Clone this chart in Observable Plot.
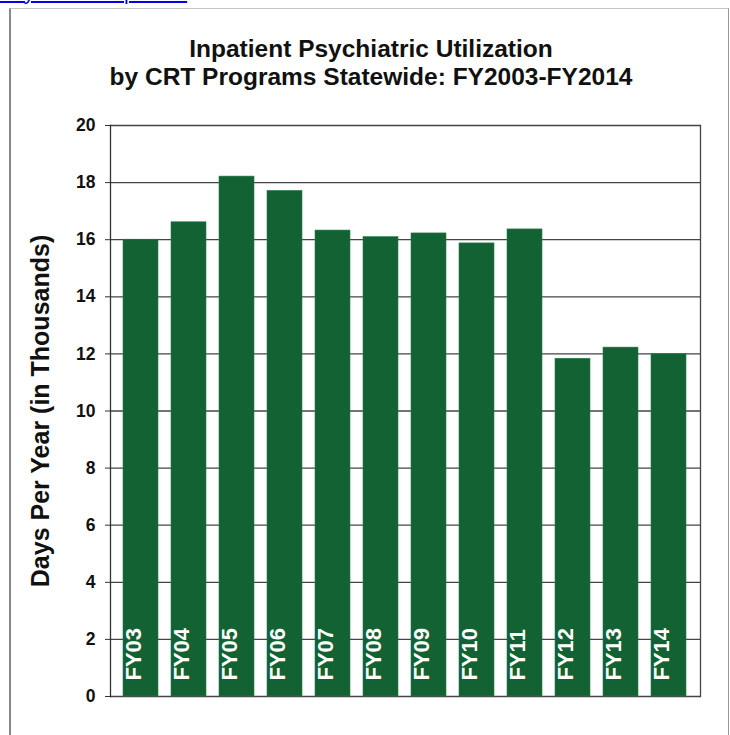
<!DOCTYPE html>
<html>
<head>
<meta charset="utf-8">
<script src="https://cdn.jsdelivr.net/npm/d3@7"></script>
<script src="https://cdn.jsdelivr.net/npm/@observablehq/plot@0.6"></script>
<style>
  html, body { margin: 0; padding: 0; background: #fff; width: 730px; height: 735px; overflow: hidden; font-family: "Liberation Sans", Arial, sans-serif; }
  #link { position: absolute; right: 537px; top: -19px; text-align: right; white-space: nowrap; font-size: 21px; color: #0000ee; }
  #link a { color: #0000ee; text-decoration: underline; text-decoration-thickness: 2px; }
  #frame { position: absolute; left: 9px; top: 8px; width: 717px; height: 760px; border: 1px solid #999; border-top-color: #c4c4c4; border-left: 2px solid #888; }
  .title { position: absolute; left: 0; width: 742px; text-align: center; font-weight: bold; font-size: 24.5px; color: #111; white-space: nowrap; }
  #chart { position: absolute; left: 0; top: 0; }
  #ylabel { position: absolute; left: 40px; top: 411px; transform: translate(-50%, -50%) rotate(-90deg); font-weight: bold; font-size: 25px; color: #111; white-space: nowrap; }
</style>
</head>
<body>
<div id="link"><a>Acute Psychiatric Inpatient</a><span style="color:#000">.</span></div>
<div id="frame"></div>
<div id="chart"></div>
<div class="title" style="top:35px">Inpatient Psychiatric Utilization</div>
<div class="title" style="top:63px">by CRT Programs Statewide: FY2003-FY2014</div>
<div id="ylabel">Days Per Year (in Thousands)</div>
<script>
const years = ["FY03","FY04","FY05","FY06","FY07","FY08","FY09","FY10","FY11","FY12","FY13","FY14"];
const days = [16.0, 16.61, 18.21, 17.71, 16.32, 16.09, 16.22, 15.87, 16.36, 11.83, 12.22, 11.99];
const yTicks = [0, 2, 4, 6, 8, 10, 12, 14, 16, 18, 20];

const data = years.map((fy, i) => ({fy, days: days[i]}));

const chart = Plot.plot({
  width: 730,
  height: 735,
  marginLeft: 110,
  marginRight: 30,
  marginTop: 125,
  marginBottom: 39,
  style: { background: "transparent", fontFamily: "'Liberation Sans', Arial, sans-serif" },
  x: { domain: years, padding: 0.27, axis: null },
  y: { domain: [0, 20], axis: null },
  marks: [
    Plot.ruleY(yTicks, { stroke: "#444", strokeWidth: 1.3 }),
    Plot.barY(data, { x: "fy", y: "days", fill: "#126234", stroke: "#2f7a4c", strokeWidth: 0.6 }),
    Plot.frame({ anchor: "left", stroke: "#333", strokeWidth: 1.3 }),
    Plot.frame({ anchor: "right", stroke: "#444", strokeWidth: 1.3 }),
    Plot.axisY({ ticks: yTicks, tickSize: 5, tickPadding: 10, fontSize: 17.5, fontWeight: "bold", label: null, stroke: "#333", color: "#111" }),
    Plot.text(data, { x: "fy", text: "fy", frameAnchor: "bottom", rotate: -90, textAnchor: "start", dy: -16, fill: "white", fontSize: 22, fontWeight: "bold" })
  ]
});
document.getElementById("chart").appendChild(chart);
</script>
</body>
</html>
